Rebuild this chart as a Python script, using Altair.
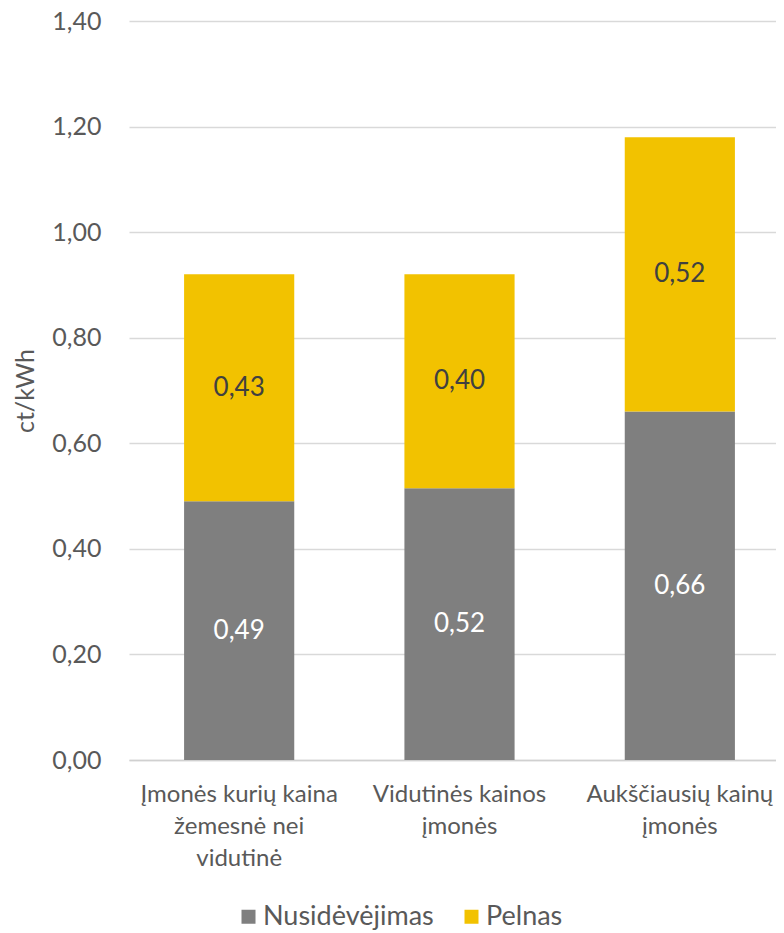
import altair as alt
import pandas as pd

categories = ["Įmonės kurių kaina\nžemesnė nei\nvidutinė", "Vidutinės kainos\nįmonės", "Aukščiausių kainų\nįmonės"]
series = ["Nusidėvėjimas", "Pelnas"]
nusidevejimas = [0.49, 0.515, 0.66]
pelnas = [0.43, 0.405, 0.52]
label_nus = ["0,49", "0,52", "0,66"]
label_pel = ["0,43", "0,40", "0,52"]
y_ticks = [0, 0.2, 0.4, 0.6, 0.8, 1.0, 1.2, 1.4]

rows = []
for i, c in enumerate(categories):
    base = 0.0
    for s, vals, labs, order in [(series[0], nusidevejimas, label_nus, 0), (series[1], pelnas, label_pel, 1)]:
        v = vals[i]
        rows.append({"cat": c, "series": s, "value": v, "lab": labs[i], "order": order,
                     "mid": base + v / 2})
        base += v
df = pd.DataFrame(rows)

FONT = "Lato"
GREY_TXT = "#595959"

xscale = alt.Scale(domain=categories, range=[1, 662], paddingInner=0.5, paddingOuter=0.25)
yscale = alt.Scale(domain=[0, 1.4], nice=False)

bars = alt.Chart(df).mark_bar().encode(
    x=alt.X("cat:N", scale=xscale, sort=categories,
            axis=alt.Axis(title=None, labelAngle=0, labelExpr="split(datum.label, '\\n')",
                          labelFont=FONT, labelFontSize=24, labelColor=GREY_TXT, labelLimit=400,
                          labelPadding=22, labelLineHeight=32, labelBaseline="top",
                          ticks=False, domainColor="#d0d0d0", domainWidth=1.5, grid=False)),
    y=alt.Y("value:Q", stack="zero", scale=yscale,
            axis=alt.Axis(title="ct/kWh", values=y_ticks, labelExpr="replace(format(datum.value, '.2f'), '.', ',')",
                          labelFont=FONT, labelFontSize=25, labelColor=GREY_TXT, labelPadding=27,
                          ticks=False, domain=False, gridColor="#d9d9d9", gridWidth=1.5,
                          titleFont=FONT, titleFontSize=25, titleColor=GREY_TXT, titleFontWeight="normal",
                          titlePadding=13)),
    color=alt.Color("series:N", scale=alt.Scale(domain=series, range=["#7f7f7f", "#f2c200"]),
                    legend=alt.Legend(title=None, orient="none", direction="horizontal",
                                      legendX=107, legendY=882, symbolType="square", symbolSize=196,
                                      symbolStrokeWidth=0, labelFont=FONT, labelFontSize=27,
                                      labelLimit=400,
                                      labelColor=GREY_TXT, columnPadding=24, labelOffset=1)),
    order=alt.Order("order:Q"),
)

text = alt.Chart(df).mark_text(font=FONT, fontSize=26, baseline="middle", align="center").encode(
    x=alt.X("cat:N", scale=xscale, sort=categories),
    y=alt.Y("mid:Q", scale=yscale),
    text="lab:N",
    color=alt.Color("series:N", scale=alt.Scale(domain=series, range=["#ffffff", "#404040"]), legend=None),
)

chart = alt.layer(bars, text).resolve_scale(color="independent").properties(
    width=648, height=739,
    autosize=alt.AutoSizeParams(type="none"),
    padding={"left": 120, "top": 13, "right": 0, "bottom": 173},
).configure_view(stroke=None)

chart.save("out.html", embed_options={"renderer": "svg", "actions": False})
